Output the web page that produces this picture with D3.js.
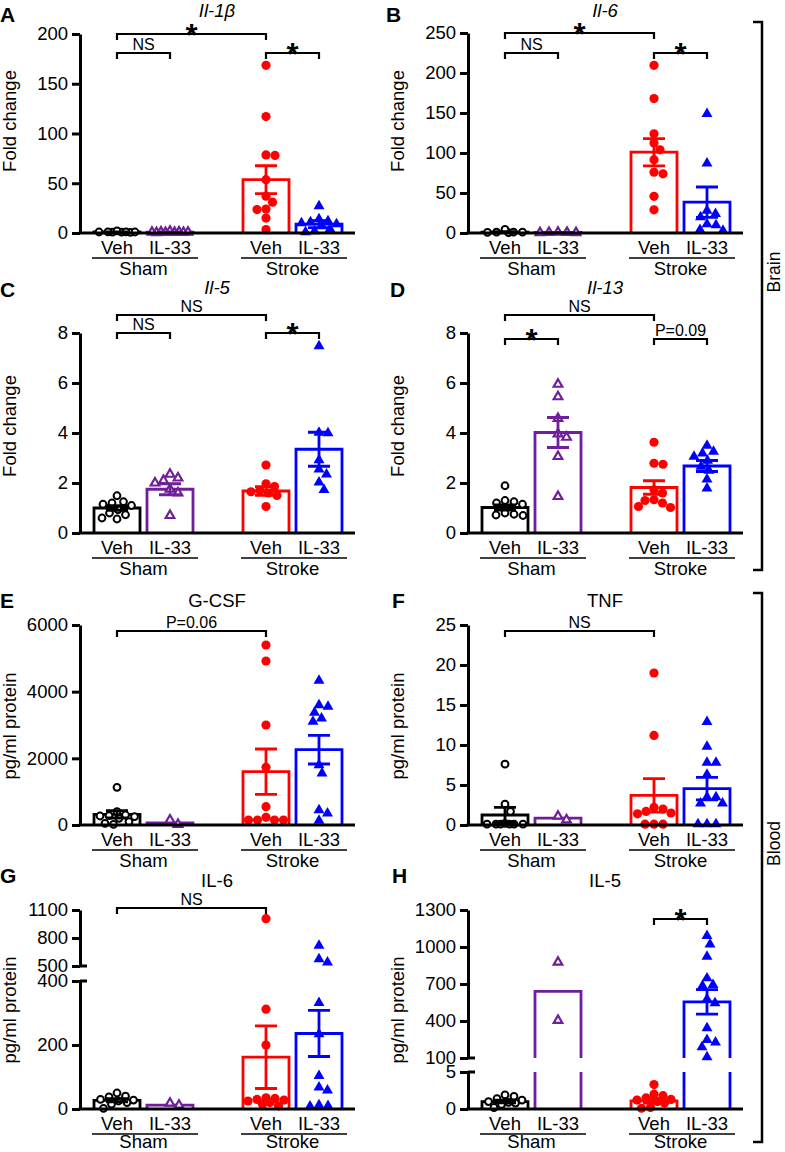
<!DOCTYPE html>
<html><head><meta charset="utf-8">
<script src="https://cdn.jsdelivr.net/npm/d3@7"></script>
<style>
body{margin:0;background:#fff}
svg{display:block}
text{font-family:"Liberation Sans",Arial,Helvetica,sans-serif;fill:#000}
</style>
</head><body>
<svg id="c" width="785" height="1152"></svg>
<script>
// ---------- DATA ----------
const tickLabels = ["Veh", "IL-33", "Veh", "IL-33"];
const conditions = ["Sham", "Stroke"];
const groupColors = ["#000000", "#6f1f9a", "#ff0000", "#0000ff"];

// A: Il-1β (brain, fold change)
const il1bPoints = [
  [0.6, 0.8, 0.9, 1, 1, 1.1, 1.2, 2.2],
  [0.4, 0.5, 0.6, 0.7, 0.8, 0.9, 1, 1.2, 1.8],
  [168.5, 117, 78.5, 78, 53.6, 37, 31, 24, 23.5, 15, 3.4],
  [27, 14, 12, 11, 10, 9, 7, 4, 2, 1]
];
const il1bMeans = [1, 0.9, 53.6, 9];
const il1bSem = [0.2, 0.15, 14, 3.5];
const il1bSig = [[0, 2, "*"], [0, 1, "NS"], [2, 3, "*"]];

// B: Il-6 (brain)
const il6BrainPoints = [
  [0.5, 0.8, 1, 1, 1.2, 4.5],
  [0.3, 0.5, 0.6, 0.8, 1],
  [209.6, 168, 124, 112.5, 104, 91.7, 76, 74, 45.8, 29],
  [149, 87, 28, 24, 20, 11, 10, 4, 3]
];
const il6BrainMeans = [1, 0.6, 101, 38.5];
const il6BrainSem = [0.6, 0.1, 17, 19];
const il6BrainSig = [[0, 2, "*"], [0, 1, "NS"], [2, 3, "*"]];

// C: Il-5 (brain)
const il5BrainPoints = [
  [1.49, 1.25, 1.2, 1.15, 1.1, 0.93, 0.8, 0.73, 0.6, 0.56],
  [2.35, 2.2, 2.1, 2.0, 1.75, 1.6, 0.7],
  [2.72, 1.97, 1.86, 1.7, 1.65, 1.6, 1.5, 1.06],
  [7.48, 4.02, 4.0, 2.92, 2.55, 2.35, 2.03, 1.73]
];
const il5BrainMeans = [1.0, 1.75, 1.68, 3.35];
const il5BrainSem = [0.09, 0.22, 0.17, 0.68];
const il5BrainSig = [[0, 2, "NS"], [0, 1, "NS"], [2, 3, "*"]];

// D: Il-13 (brain)
const il13Points = [
  [1.89, 1.3, 1.25, 1.2, 1.15, 0.8, 0.75, 0.72, 0.7],
  [5.95, 5.45, 4.58, 3.96, 3.83, 3.06, 1.46],
  [3.63, 2.79, 2.75, 1.73, 1.6, 1.33, 1.3, 1.2, 1.06, 1.02],
  [3.5, 3.26, 3.19, 3.06, 2.9, 2.66, 2.5, 2.15, 1.79]
];
const il13Means = [1.02, 4.02, 1.82, 2.68];
const il13Sem = [0.1, 0.6, 0.27, 0.22];
const il13Sig = [[0, 2, "NS"], [0, 1, "*"], [2, 3, "P=0.09"]];

// E: G-CSF (blood, pg/ml protein)
const gcsfPoints = [
  [1130, 400, 300, 280, 270, 250, 200, 100, 50, 20],
  [150, 20],
  [5400, 4920, 3000, 1730, 550, 230, 150, 150, 150, 150],
  [4330, 3600, 3550, 3370, 3200, 3100, 1800, 1550, 450, 350, 130]
];
const gcsfMeans = [320, 60, 1600, 2260];
const gcsfSem = [110, 0, 680, 430];
const gcsfSig = [[0, 2, "P=0.06"]];

// F: TNF (blood)
const tnfPoints = [
  [7.6, 2.6, 1.7, 0.2, 0.1, 0.1, 0.1, 0.1, 0.1, 0.1],
  [0.65, 1.1],
  [19, 11.2, 2.2, 2.0, 1.7, 1.5, 1.4, 0.1, 0.1, 0.1],
  [12.9, 9.8, 7.8, 7.8, 6.3, 3.5, 3.5, 2.7, 2.7, 0.1, 0.1, 0.1]
];
const tnfMeans = [1.25, 0.85, 3.7, 4.55];
const tnfSem = [0.95, 0, 2.1, 1.4];
const tnfSig = [[0, 2, "NS"]];

// G: IL-6 (blood)
const il6BloodPoints = [
  [50, 40, 38, 30, 28, 25, 20, 15, 2],
  [12, 18],
  [1007, 312, 200, 35, 33, 30, 28, 25, 20, 15, 10],
  [718, 575, 540, 332, 234, 104, 68, 58, 12, 10, 8]
];
const il6BloodMeans = [27, 12, 162, 236];
const il6BloodSem = [5, 0, 98, 72];
const il6BloodSig = [[0, 2, "NS"]];

// H: IL-5 (blood)
const il5BloodPoints = [
  [1.9, 1.7, 1.4, 1.2, 1.0, 0.9, 0.8, 0.6, 0.2],
  [877, 405],
  [3.3, 2.0, 1.8, 1.5, 1.3, 1.2, 1.0, 0.8, 0.2, 0.1],
  [1090, 1022, 922, 747, 693, 685, 577, 545, 343, 248, 227, 189, 108]
];
const il5BloodMeans = [1.0, 640, 1.1, 555];
const il5BloodSem = [0.18, 0, 0.3, 100];
const il5BloodSig = [[2, 3, "*"]];

// Tick values
const ticksA = [[0, 50, 100, 150, 200]];
const ticksB = [[0, 50, 100, 150, 200, 250]];
const ticksCD = [[0, 2, 4, 6, 8]];
const ticksE = [[0, 2000, 4000, 6000]];
const ticksF = [[0, 5, 10, 15, 20, 25]];
const ticksG = [[0, 200, 400], [500, 800, 1100]];
const ticksH = [[0, 5], [100, 400, 700, 1000, 1300]];

// ---------- LAYOUT ----------
const panels = [
  {letter:"A", title:"Il-1β", italic:true, ax:80, domain:[0,200], range:[233,34], ticks:ticksA, ylabel:"Fold change",
   pts:il1bPoints, means:il1bMeans, sems:il1bSem, sig:il1bSig, sigY:[34,53,53], titleY:10, letterX:0, letterY:22, ylabelY:121},
  {letter:"B", title:"Il-6", italic:true, ax:468, domain:[0,250], range:[233,33], ticks:ticksB, ylabel:"Fold change",
   pts:il6BrainPoints, means:il6BrainMeans, sems:il6BrainSem, sig:il6BrainSig, sigY:[33,53,53], titleY:10, letterX:386, letterY:22, ylabelY:121},
  {letter:"C", title:"Il-5", italic:true, ax:80, domain:[0,8], range:[533,333], ticks:ticksCD, ylabel:"Fold change",
   pts:il5BrainPoints, means:il5BrainMeans, sems:il5BrainSem, sig:il5BrainSig, sigY:[315,333,333], titleY:287, letterX:0, letterY:297, ylabelY:426},
  {letter:"D", title:"Il-13", italic:true, ax:468, domain:[0,8], range:[533,333], ticks:ticksCD, ylabel:"Fold change",
   pts:il13Points, means:il13Means, sems:il13Sem, sig:il13Sig, sigY:[315,339,339], titleY:287, letterX:390, letterY:297, ylabelY:426},
  {letter:"E", title:"G-CSF", italic:false, ax:80, domain:[0,6000], range:[825,625], ticks:ticksE, ylabel:"pg/ml protein",
   pts:gcsfPoints, means:gcsfMeans, sems:gcsfSem, sig:gcsfSig, sigY:[631], titleY:600, letterX:0, letterY:608, ylabelY:726},
  {letter:"F", title:"TNF", italic:false, ax:468, domain:[0,25], range:[825,625], ticks:ticksF, ylabel:"pg/ml protein",
   pts:tnfPoints, means:tnfMeans, sems:tnfSem, sig:tnfSig, sigY:[631], titleY:600, letterX:392, letterY:608, ylabelY:726},
  {letter:"G", title:"IL-6", italic:false, ax:80, domain:[0,400,500,1100], range:[1109,981,966,910], ticks:ticksG, ylabel:"pg/ml protein",
   pts:il6BloodPoints, means:il6BloodMeans, sems:il6BloodSem, sig:il6BloodSig, sigY:[908], titleY:880, letterX:0, letterY:883, ylabelY:1010},
  {letter:"H", title:"IL-5", italic:false, ax:468, domain:[0,5,100,1300], range:[1109,1072,1058,910], ticks:ticksH, ylabel:"pg/ml protein",
   pts:il5BloodPoints, means:il5BloodMeans, sems:il5BloodSem, sig:il5BloodSig, sigY:[919], titleY:880, letterX:392, letterY:883, ylabelY:1010}
];

const slotOffsets = [37, 90, 186, 239];
const barHalf = 23;
const axisLen = 275;
const FONT = '"Liberation Sans", Arial, Helvetica, sans-serif';

const svg = d3.select("#c");

function dodge(ys, r, maxOff) {
  const order = d3.range(ys.length).sort((a, b) => ys[a] - ys[b]);
  const placed = [];
  const xs = new Array(ys.length);
  const cands = [0];
  for (let d = 0.5; d <= maxOff; d += 0.5) cands.push(d, -d);
  for (const i of order) {
    let best = 0, bestScore = -Infinity;
    for (const c of cands) {
      let minD = Infinity;
      for (const p of placed) {
        const dd = Math.hypot(c - p.x, ys[i] - p.y);
        if (dd < minD) minD = dd;
      }
      if (minD >= 2 * r) { best = c; bestScore = Infinity; break; }
      if (minD > bestScore + 0.01) { bestScore = minD; best = c; }
    }
    xs[i] = best;
    placed.push({x: best, y: ys[i]});
  }
  return xs;
}

panels.forEach(p => {
  const g = svg.append("g");
  const y = d3.scaleLinear().domain(p.domain).range(p.range);
  const x = d3.scaleOrdinal().domain([0, 1, 2, 3]).range(slotOffsets.map(o => p.ax + o));
  const y0 = p.range[0];
  const broken = p.domain.length === 4;

  // panel letter
  g.append("text").attr("x", p.letterX).attr("y", p.letterY)
    .attr("font-size", 21).attr("font-weight", 900).attr("font-family", '"DejaVu Sans", ' + FONT)
    .text(p.letter);

  // title
  g.append("text").attr("x", p.ax + 137).attr("y", p.titleY + 6.5)
    .attr("text-anchor", "middle").attr("font-size", 18.5)
    .attr("font-style", p.italic ? "italic" : "normal").text(p.title);

  // y label
  g.append("text").attr("transform", `translate(${p.ax - 64},${p.ylabelY}) rotate(-90)`)
    .attr("text-anchor", "middle").attr("font-size", 18.5).text(p.ylabel);

  // y axes (segments)
  const segs = broken ? [[0, 1], [2, 3]] : [[0, 1]];
  segs.forEach((s, k) => {
    const sc = d3.scaleLinear().domain([p.domain[s[0]], p.domain[s[1]]]).range([p.range[s[0]], p.range[s[1]]]);
    const axis = d3.axisLeft(sc).tickValues(p.ticks[k]).tickSize(8).tickSizeOuter(0).tickPadding(4).tickFormat(d3.format("d"));
    const ag = g.append("g").attr("transform", `translate(${p.ax},0)`).call(axis);
    ag.attr("font-size", 18.5).attr("font-family", FONT);
    ag.select(".domain").attr("stroke-width", 3);
    ag.selectAll(".tick line").attr("stroke-width", 3);
    ag.selectAll(".tick text").attr("fill", "#000");
  });
  if (broken) {
    [p.range[1], p.range[2]].forEach(yy => {
      g.append("line").attr("x1", p.ax).attr("x2", p.ax + 7).attr("y1", yy).attr("y2", yy)
        .attr("stroke", "#000").attr("stroke-width", 3);
    });
  }

  // bars
  p.means.forEach((m, i) => {
    const cx = x(i);
    let d;
    if (!broken || m <= p.domain[1]) {
      d = `M${cx - barHalf},${y0}V${y(m)}H${cx + barHalf}V${y0}`;
    } else {
      d = `M${cx - barHalf},${y0}V${p.range[1]}M${cx + barHalf},${y0}V${p.range[1]}` +
          `M${cx - barHalf},${p.range[2]}V${y(m)}H${cx + barHalf}V${p.range[2]}`;
    }
    g.append("path").attr("d", d).attr("fill", "none")
      .attr("stroke", groupColors[i]).attr("stroke-width", 2.8);
  });

  // points
  p.pts.forEach((vals, i) => {
    const ys = vals.map(v => y(v));
    const xs = dodge(ys, 4.4, 19);
    const cx = x(i);
    vals.forEach((v, j) => {
      const px = cx + xs[j], py = ys[j];
      if (i === 0) {
        g.append("circle").attr("cx", px).attr("cy", py).attr("r", 3.4)
          .attr("fill", "#fff").attr("stroke", groupColors[i]).attr("stroke-width", 2);
      } else if (i === 2) {
        g.append("circle").attr("cx", px).attr("cy", py).attr("r", 4.6)
          .attr("fill", groupColors[i]);
      } else if (i === 1) {
        g.append("path").attr("d", d3.symbol(d3.symbolTriangle, 32)())
          .attr("transform", `translate(${px},${py})`)
          .attr("fill", "#fff").attr("stroke", groupColors[i]).attr("stroke-width", 2.2);
      } else {
        g.append("path").attr("d", d3.symbol(d3.symbolTriangle, 52)())
          .attr("transform", `translate(${px},${py})`)
          .attr("fill", groupColors[i]);
      }
    });
  });

  // error bars
  p.means.forEach((m, i) => {
    const s = p.sems[i];
    if (!s) return;
    const cx = x(i);
    const lo = y(Math.max(0, m - s)), hi = y(m + s);
    g.append("path")
      .attr("d", `M${cx},${lo}V${hi}M${cx - 11},${hi}H${cx + 11}M${cx - 11},${lo}H${cx + 11}`)
      .attr("fill", "none").attr("stroke", groupColors[i]).attr("stroke-width", 2.8);
  });

  // x axis
  g.append("line").attr("x1", p.ax - 1.5).attr("x2", p.ax + axisLen).attr("y1", y0).attr("y2", y0)
    .attr("stroke", "#000").attr("stroke-width", 3);

  // category labels
  tickLabels.forEach((t, i) => {
    g.append("text").attr("x", x(i)).attr("y", y0 + 20.5).attr("text-anchor", "middle")
      .attr("font-size", 18.5).text(t);
  });
  conditions.forEach((c, k) => {
    const xa = x(2 * k), xb = x(2 * k + 1);
    g.append("line").attr("x1", xa - 25).attr("x2", xb + 28).attr("y1", y0 + 25).attr("y2", y0 + 25)
      .attr("stroke", "#000").attr("stroke-width", 1.4);
    g.append("text").attr("x", (xa + xb) / 2).attr("y", Math.min(y0 + 42, 1148)).attr("text-anchor", "middle")
      .attr("font-size", 18.5).text(c);
  });

  // significance brackets
  p.sig.forEach(([a, b, label], k) => {
    const by = p.sigY[k];
    const x1 = x(a), x2 = x(b);
    g.append("path").attr("d", `M${x1},${by + 6}V${by}H${x2}V${by + 6}`)
      .attr("fill", "none").attr("stroke", "#000").attr("stroke-width", 2.2);
    const star = label === "*";
    g.append("text").attr("x", (x1 + x2) / 2).attr("y", star ? by + 12 : by - 3)
      .attr("text-anchor", "middle").attr("font-size", star ? 31 : 16)
      .attr("font-weight", star ? 700 : 400).text(label);
  });
});

// Brain / Blood brackets
const regions = [
  {label: "Brain", top: 22, bottom: 570},
  {label: "Blood", top: 593, bottom: 1142}
];
regions.forEach(r => {
  svg.append("path").attr("d", `M753,${r.top}H762V${r.bottom}H753`)
    .attr("fill", "none").attr("stroke", "#000").attr("stroke-width", 2.5);
  svg.append("text").attr("transform", `translate(780,${(r.top + r.bottom) / 2 - 24}) rotate(-90)`)
    .attr("text-anchor", "middle").attr("font-size", 17.5).text(r.label);
});
</script>
</body></html>
